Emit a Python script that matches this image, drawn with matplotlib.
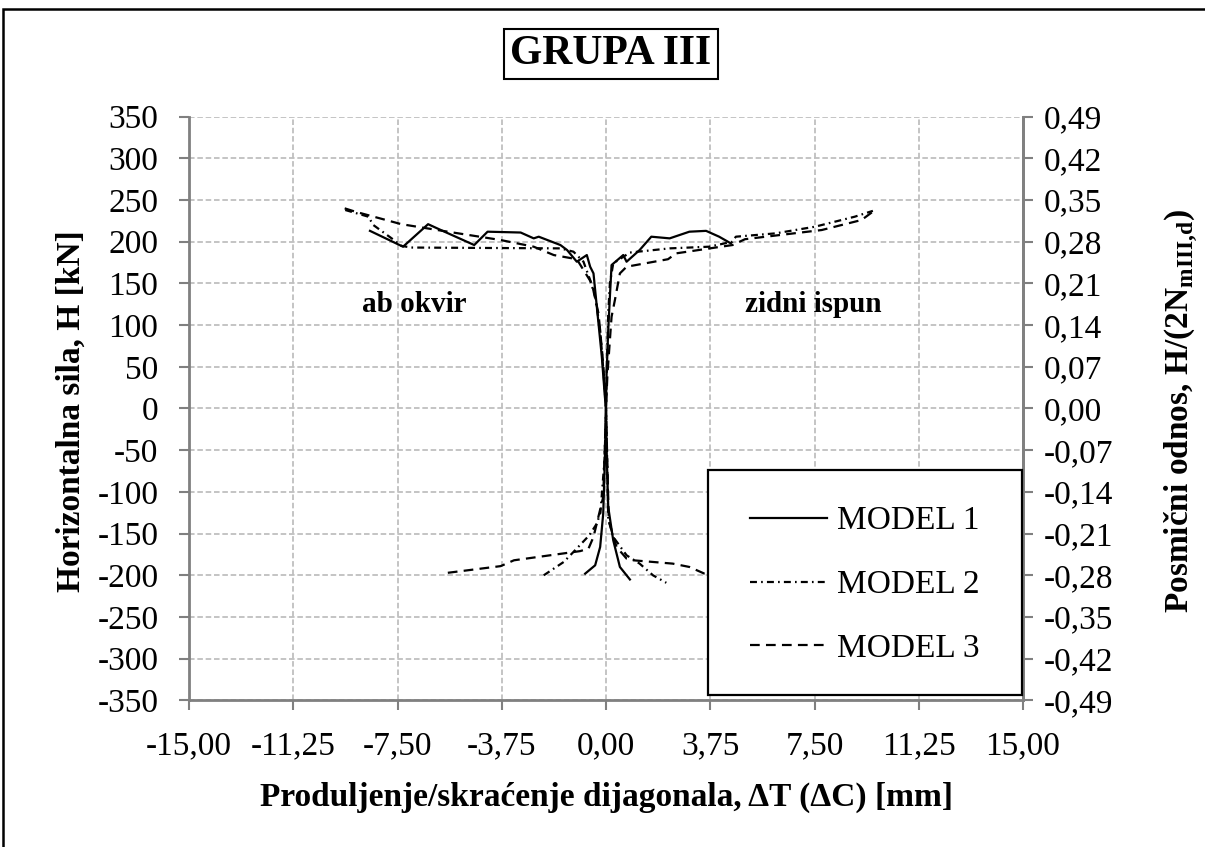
import numpy as np
import matplotlib
matplotlib.use("Agg")
import matplotlib.pyplot as plt
from matplotlib.patches import Rectangle
from matplotlib.lines import Line2D

plt.rcParams['font.family'] = ['Liberation Serif', 'DejaVu Serif']
plt.rcParams['mathtext.fontset'] = 'custom'
plt.rcParams['mathtext.rm'] = 'Liberation Serif'
plt.rcParams['mathtext.bf'] = 'Liberation Serif:bold'
plt.rcParams['lines.scale_dashes'] = False

# ---------------- data ----------------
title = "GRUPA III"
series_names = ["MODEL 1", "MODEL 2", "MODEL 3"]

# MODEL 1 (upper branch: ab okvir side -> origin -> zidni ispun side)
m1_up_x = [-8.49, -7.30, -6.40, -5.81, -4.74, -4.26, -3.07, -2.60, -2.42, -1.64, -1.40, -1.05,
           -0.69, -0.57, -0.45, -0.33, -0.15, -0.04, 0.0, 0.02, 0.08, 0.14, 0.20, 0.62, 0.74,
           1.21, 1.63, 2.29, 3.00, 3.60, 4.07, 4.49]
m1_up_y = [213, 194, 221, 212, 196, 212, 211, 204, 206, 196, 190, 176,
           184, 170, 162, 122, 62, 14, 0, 40, 94, 134, 172, 184, 176,
           190, 206, 204, 212, 213, 206, 198]
m1_lo_x = [-0.75, -0.39, -0.21, -0.10, -0.04, 0.0, 0.03, 0.08, 0.26, 0.50, 0.86]
m1_lo_y = [-198, -188, -166, -126, -60, 0, -60, -118, -158, -190, -205]

# MODEL 2
m2_up_x = [-9.38, -8.55, -8.37, -7.71, -7.36, -7.00, -1.64, -1.17, -0.81, -0.57, -0.39, -0.21,
           -0.10, 0.0, 0.04, 0.08, 0.14, 0.26, 0.86, 2.29, 3.71, 4.55, 4.67, 6.10, 7.52, 8.95, 9.60]
m2_up_y = [238, 230, 220, 204, 195, 193, 192, 188, 176, 154, 134, 94,
           48, 0, 60, 114, 150, 174, 187, 192, 194, 200, 206, 210, 218, 230, 237]
m2_lo_x = [-2.24, -1.52, -1.17, -0.60, -0.33, -0.20, -0.05, 0.0, 0.04, 0.08, 0.26, 0.74, 1.21, 1.69, 2.17]
m2_lo_y = [-200, -184, -172, -152, -138, -125, -60, 0, -60, -132, -154, -176, -186, -200, -209]

# MODEL 3
m3_up_x = [-9.40, -9.02, -7.36, -5.69, -3.79, -2.60, -1.88, -1.05, -0.51, -0.27, -0.10, 0.0,
           0.05, 0.20, 0.32, 0.50, 0.74, 2.23, 2.52, 4.55, 5.00, 7.76, 9.19, 9.68]
m3_up_y = [240, 236, 221, 212, 202, 194, 184, 179, 150, 114, 54, 0,
           40, 110, 130, 162, 170, 179, 186, 196, 203, 214, 226, 238]
m3_lo_x = [-5.69, -3.79, -3.31, -0.93, -0.63, -0.45, -0.10, 0.0, 0.10, 0.38, 0.74, 0.98, 2.40, 3.00, 3.54, 4.20]
m3_lo_y = [-197, -189, -182, -171, -168, -154, -106, 0, -135, -166, -180, -182, -186, -190, -198, -202]

x_ticks = [-15.00, -11.25, -7.50, -3.75, 0.00, 3.75, 7.50, 11.25, 15.00]
y_ticks = [350, 300, 250, 200, 150, 100, 50, 0, -50, -100, -150, -200, -250, -300, -350]
y2_ticks = [0.49, 0.42, 0.35, 0.28, 0.21, 0.14, 0.07, 0.00, -0.07, -0.14, -0.21, -0.28, -0.35, -0.42, -0.49]

# ---------------- figure ----------------
W, H = 1205, 847
fig = plt.figure(figsize=(W / 100, H / 100), dpi=100)
ax = fig.add_axes([189 / W, 1 - 700.4 / H, 834 / W, 583.8 / H])

styles = [dict(linestyle='-'),
          dict(linestyle=(0, (5, 3, 1.2, 3))),
          dict(linestyle=(0, (7, 4.5)))]
data = [(m1_up_x, m1_up_y, m1_lo_x, m1_lo_y),
        (m2_up_x, m2_up_y, m2_lo_x, m2_lo_y),
        (m3_up_x, m3_up_y, m3_lo_x, m3_lo_y)]
for (ux, uy, lx, ly), st in zip(data, styles):
    ax.plot(ux, uy, color='black', lw=1.6, zorder=3, **st)
    ax.plot(lx, ly, color='black', lw=1.6, zorder=3, **st)

ax.set_xlim(-15, 15)
ax.set_ylim(-350, 350)
ax.set_xticks(x_ticks)
ax.set_xticklabels([f"{v:.2f}".replace('.', ',') for v in x_ticks])
ax.set_yticks(y_ticks)
ax.set_yticklabels([str(v) for v in y_ticks])

ax.grid(True, color='#BFBFBF', linestyle=(0, (4, 2)), linewidth=1.3, zorder=0)
gray = '#808080'
for s in ['left', 'bottom', 'right']:
    ax.spines[s].set_color(gray)
    ax.spines[s].set_linewidth(2)
ax.spines['top'].set_visible(False)
ax.tick_params(axis='both', direction='out', length=7, width=1.5, color=gray,
               pad=15, labelsize=24)

ax2 = ax.twinx()
ax2.set_ylim(-0.49, 0.49)
ax2.set_yticks(y2_ticks)
ax2.set_yticklabels([f"{v:.2f}".replace('.', ',') for v in y2_ticks])
for s in ['left', 'bottom', 'top']:
    ax2.spines[s].set_visible(False)
ax2.spines['right'].set_color(gray)
ax2.spines['right'].set_linewidth(2)
ax2.tick_params(axis='y', direction='out', length=7, width=1.5, color=gray,
                pad=8, labelsize=24)

# labels
fig.text(606 / W, 1 - 797 / H, "Produljenje/skraćenje dijagonala, ΔT (ΔC) [mm]",
         ha='center', va='center', fontsize=24, fontweight='bold')
fig.text(71 / W, 1 - 411 / H, "Horizontalna sila, H [kN]", rotation=90,
         ha='center', va='center', fontsize=24, fontweight='bold')
fig.text(1181 / W, 1 - 411 / H, r"Posmični odnos, H/(2N$_{\mathbf{mIII{,}d}}$)", rotation=90,
         ha='center', va='center', fontsize=24, fontweight='bold')

# annotations
ax.text(-6.9, 125, "ab okvir", ha='center', va='center', fontsize=21, fontweight='bold', zorder=4)
ax.text(7.45, 125, "zidni ispun", ha='center', va='center', fontsize=21, fontweight='bold', zorder=4)

# title
fig.text(611 / W, 1 - 54 / H, title, ha='center', va='center', fontsize=30, fontweight='bold',
         bbox=dict(boxstyle='square,pad=0.15', fc='white', ec='black', lw=1.5))

# legend box
ax2.add_patch(Rectangle((0.6227, 0.0092), 0.9984 - 0.6227, 0.3947 - 0.0092, transform=ax.transAxes,
                        facecolor='white', edgecolor='black', lw=1.6, zorder=5, clip_on=False))
handles = [Line2D([], [], color='black', lw=1.6, **st) for st in styles]
leg = ax2.legend(handles, series_names, loc='center', bbox_to_anchor=(0.810, 0.1977),
                 bbox_transform=ax.transAxes, frameon=False, fontsize=24,
                 handlelength=2.3, handletextpad=0.3, labelspacing=1.0)
leg.set_zorder(6)

# outer border (left and top sides)
fig.patches.append(Rectangle((3 / W, -0.2), 1.3, 1.2 - 9 / H, transform=fig.transFigure,
                             fill=False, edgecolor='black', lw=1.8, clip_on=False))

fig.savefig("out.png", dpi=100)
